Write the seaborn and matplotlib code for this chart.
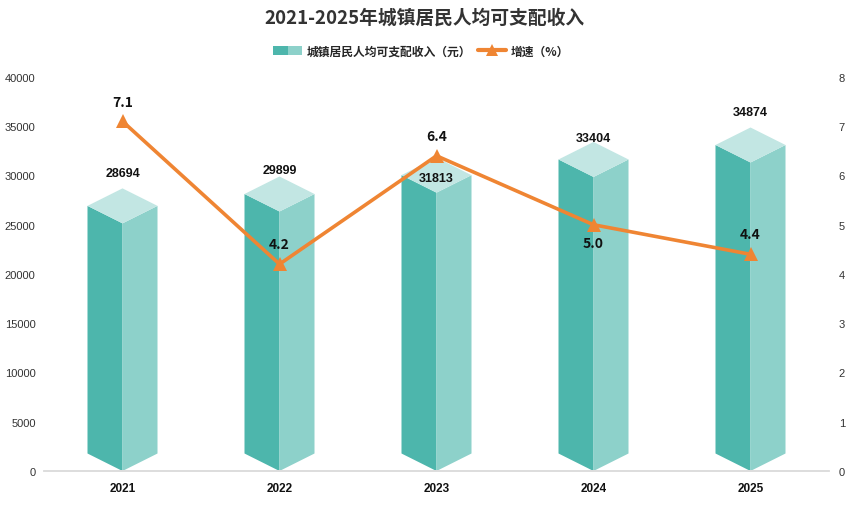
import numpy as np
import pandas as pd
import matplotlib
matplotlib.use("Agg")
import matplotlib.pyplot as plt
import seaborn as sb
from matplotlib.patches import Patch
from matplotlib.lines import Line2D
from matplotlib.legend_handler import HandlerTuple
from matplotlib.transforms import offset_copy

years = ["2021", "2022", "2023", "2024", "2025"]
income = [28694, 29899, 31813, 33404, 34874]
growth = [7.1, 4.2, 6.4, 5.0, 4.4]
growth_labels = ["7.1", "4.2", "6.4", "5.0", "4.4"]

# label offsets in pixels (bar labels, line labels), as placed in the original
bar_lab_dy = [15, 6, -20, 4, 15]
line_lab_dy = [19, 20, 20, -18, 20]

C_LEFT = "#4DB6AC"
C_RIGHT = "#8DD1CA"
C_TOP = "#C2E6E3"
C_LINE = "#EF8533"

sb.set_theme(style="white")
plt.rcParams["font.family"] = ["Noto Sans CJK SC", "DejaVu Sans"]

fig = plt.figure(figsize=(8.48, 5.06), dpi=100)
W, H = 848, 506
ax = fig.add_axes([44 / W, (H - 472) / H, (829 - 44) / W, (472 - 78) / H])
ax2 = ax.twinx()

ax.set_xlim(-0.5, 4.5)
ax.set_ylim(0, 40000)
ax2.set_ylim(0, 8)

df = pd.DataFrame({"pos": np.arange(len(years)), "year": years,
                   "income": income, "growth": growth})

# prism bars
w = 35 / 157.0          # half width in category units
d = 17.5 / 394 * 40000  # diamond depth in value units
for x, v in zip(df["pos"], df["income"]):
    ax.fill([x - w, x, x, x - w], [d, 0, v - 2 * d, v - d], color=C_LEFT, lw=0)
    ax.fill([x, x + w, x + w, x], [0, d, v - d, v - 2 * d], color=C_RIGHT, lw=0)
    ax.fill([x, x - w, x, x + w], [v - 2 * d, v - d, v, v - d], color=C_TOP, lw=0)

for x, v, dy in zip(df["pos"], df["income"], bar_lab_dy):
    tr = offset_copy(ax.transData, fig=fig, x=0, y=dy * 0.72, units="points")
    ax.text(x, v, str(v), transform=tr, ha="center", va="center",
            fontsize=9, fontweight="bold", color="#111111",
            family=["Liberation Sans", "DejaVu Sans"])

sb.lineplot(data=df, x="pos", y="growth", ax=ax2, color=C_LINE, lw=2.6,
            marker="^", markersize=10, markeredgewidth=0, legend=False)

for x, v, t, dy in zip(df["pos"], df["growth"], growth_labels, line_lab_dy):
    tr = offset_copy(ax2.transData, fig=fig, x=0, y=dy * 0.72, units="points")
    ax2.text(x, v, t, transform=tr, ha="center", va="center",
             fontsize=10, fontweight="bold", color="#111111")

# axes styling
ax.set_xticks(df["pos"])
ax.set_xticklabels(years, fontsize=8.5, fontweight="bold", color="#111111",
                   family=["Liberation Sans", "DejaVu Sans"])
ax.set_yticks(np.arange(0, 40001, 5000))
ax.set_yticklabels([str(t) for t in range(0, 40001, 5000)], fontsize=8,
                   color="#333333", family=["Liberation Sans", "DejaVu Sans"])
ax2.set_yticks(range(0, 9))
ax2.set_yticklabels([str(t) for t in range(0, 9)], fontsize=8,
                    color="#333333", family=["Liberation Sans", "DejaVu Sans"])
ax.tick_params(axis="x", length=0, pad=8)
ax.tick_params(axis="y", length=0, pad=6)
ax2.tick_params(axis="y", length=0, pad=7)
for a in (ax, ax2):
    for s in ["top", "left", "right"]:
        a.spines[s].set_visible(False)
    a.spines["bottom"].set_color("#DDDDDD")
    a.spines["bottom"].set_linewidth(1.2)
    a.grid(False)
    a.set_xlabel("")
    a.set_ylabel("")

fig.text(0.5, 1 - 18 / H, "2021-2025年城镇居民人均可支配收入", ha="center", va="center",
         fontsize=13.5, fontweight="bold", color="#333333")

h_bar = (Patch(facecolor=C_LEFT, lw=0), Patch(facecolor=C_RIGHT, lw=0))
h_line = Line2D([], [], color=C_LINE, lw=3, marker="^", markersize=8, markeredgewidth=0)
leg = fig.legend([h_bar, h_line], ["城镇居民人均可支配收入（元）", "增速（%）"],
                 handler_map={tuple: HandlerTuple(ndivide=None, pad=0)},
                 loc="center", bbox_to_anchor=(0.497, 1 - 52 / H), ncol=2, frameon=False,
                 prop={"size": 8.5, "weight": "bold"}, handlelength=2.4,
                 handleheight=0.8, columnspacing=0.6, handletextpad=0.4)

fig.savefig("out.png", dpi=100)
